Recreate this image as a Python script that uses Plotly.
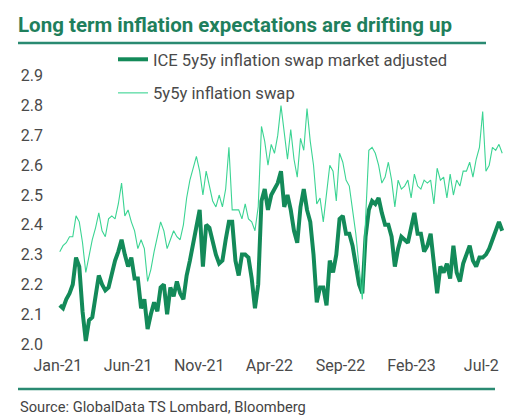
import pandas as pd
import plotly.graph_objects as go

# weekly observations, Jan-2021 .. Aug-2023
DATES = pd.date_range("2021-01-05", periods=137, freq="7D")

SWAP_ADJ = [
    2.13, 2.12, 2.15, 2.17, 2.20, 2.29, 2.26, 2.11, 2.01, 2.08,
    2.09, 2.16, 2.23, 2.20, 2.18, 2.19, 2.24, 2.28, 2.31, 2.35,
    2.30, 2.26, 2.29, 2.22, 2.22, 2.12, 2.15, 2.05, 2.10, 2.14,
    2.11, 2.19, 2.20, 2.10, 2.19, 2.16, 2.21, 2.17, 2.15, 2.23,
    2.28, 2.34, 2.40, 2.45, 2.26, 2.40, 2.39, 2.34, 2.30, 2.27,
    2.28, 2.35, 2.41, 2.41, 2.28, 2.23, 2.30, 2.30, 2.29, 2.22,
    2.12, 2.20, 2.48, 2.52, 2.45, 2.50, 2.52, 2.54, 2.58, 2.46,
    2.50, 2.45, 2.38, 2.34, 2.46, 2.52, 2.45, 2.41, 2.30, 2.14,
    2.19, 2.19, 2.13, 2.28, 2.24, 2.30, 2.42, 2.43, 2.37, 2.37,
    2.33, 2.27, 2.20, 2.17, 2.36, 2.45, 2.48, 2.47, 2.49, 2.44,
    2.40, 2.40, 2.36, 2.26, 2.32, 2.36, 2.35, 2.34, 2.39, 2.44,
    2.37, 2.37, 2.31, 2.33, 2.37, 2.27, 2.17, 2.26, 2.24, 2.27,
    2.22, 2.33, 2.24, 2.21, 2.27, 2.30, 2.33, 2.28, 2.26, 2.29,
    2.29, 2.30, 2.32, 2.35, 2.38, 2.41, 2.38,
]

SWAP = [
    2.31, 2.33, 2.34, 2.36, 2.36, 2.43, 2.41, 2.34, 2.24, 2.30,
    2.35, 2.39, 2.44, 2.38, 2.36, 2.42, 2.43, 2.42, 2.47, 2.54,
    2.43, 2.45, 2.41, 2.38, 2.32, 2.35, 2.32, 2.21, 2.25, 2.31,
    2.36, 2.41, 2.38, 2.32, 2.35, 2.38, 2.36, 2.35, 2.40, 2.49,
    2.55, 2.59, 2.63, 2.58, 2.50, 2.58, 2.53, 2.48, 2.46, 2.50,
    2.46, 2.52, 2.66, 2.45, 2.45, 2.45, 2.42, 2.47, 2.42, 2.41,
    2.38, 2.46, 2.73, 2.68, 2.60, 2.67, 2.64, 2.70, 2.80, 2.71,
    2.62, 2.72, 2.62, 2.56, 2.69, 2.65, 2.79, 2.68, 2.60, 2.47,
    2.49, 2.41, 2.51, 2.60, 2.58, 2.48, 2.64, 2.61, 2.55, 2.53,
    2.45, 2.37, 2.26, 2.15, 2.42, 2.65, 2.66, 2.64, 2.60, 2.54,
    2.56, 2.61, 2.55, 2.46, 2.55, 2.52, 2.53, 2.55, 2.49, 2.57,
    2.53, 2.52, 2.55, 2.54, 2.55, 2.47, 2.59, 2.55, 2.56, 2.49,
    2.57, 2.50, 2.55, 2.53, 2.58, 2.58, 2.61, 2.56, 2.62, 2.66,
    2.78, 2.58, 2.60, 2.66, 2.65, 2.67, 2.64,
]

TICK_DATES = ["2021-01-01", "2021-06-01", "2021-11-01", "2022-04-01",
              "2022-09-01", "2023-02-01", "2023-07-01"]
TICK_TEXT = ["Jan-21", "Jun-21", "Nov-21", "Apr-22", "Sep-22", "Feb-23", "Jul-2"]

DARK = "#138a59"
LIGHT = "#3bd493"
RULE = "#2a8a72"
TXT = "#4a4a4a"
FONT = "Roboto"

# page body adds an 8px margin, so the figure is drawn 8px smaller
W, H = 523, 411
PL, PR, PT, PB = 42, 497, 52, 342  # plot area in figure px


def px(x):
    return (x - 8 - PL) / (PR - PL)


def py(y):
    return (PB - (y - 8)) / (PB - PT)


fig = go.Figure()
fig.add_trace(go.Scatter(
    x=DATES, y=SWAP_ADJ, mode="lines",
    name="ICE 5y5y inflation swap market adjusted",
    line=dict(color=DARK, width=4), legendgroup="a",
))
fig.add_trace(go.Scatter(
    x=DATES, y=SWAP, mode="lines",
    name="5y5y inflation swap",
    line=dict(color=LIGHT, width=1.1), legendgroup="b",
))

fig.update_xaxes(
    range=["2020-12-15", "2023-08-21"],
    tickvals=TICK_DATES, ticktext=TICK_TEXT,
    showgrid=False, zeroline=False, showline=False,
    ticklabelstandoff=4,
    tickfont=dict(family=FONT, size=16, color=TXT),
)
fig.update_yaxes(
    range=[1.98, 2.953],
    tickvals=[2.0, 2.1, 2.2, 2.3, 2.4, 2.5, 2.6, 2.7, 2.8, 2.9],
    tickformat=".1f",
    showgrid=False, zeroline=False, showline=False,
    ticklabelstandoff=6,
    tickfont=dict(family=FONT, size=16, color=TXT),
)

fig.update_layout(
    width=W, height=H,
    margin=dict(l=PL, r=W - PR, t=PT, b=H - PB),
    paper_bgcolor="white", plot_bgcolor="white",
    font=dict(family=FONT, color=TXT),
    title=dict(
        text="<b>Long term inflation expectations are drifting up</b>",
        font=dict(family=FONT, size=20.5, color="#1f7f5c"),
        xref="container", x=(18 - 8) / W, xanchor="left",
        yref="container", y=1 - (25 - 8) / H, yanchor="middle",
    ),
    legend=dict(
        x=px(113), xanchor="left",
        y=py(42), yanchor="top",
        bgcolor="rgba(0,0,0,0)",
        font=dict(family=FONT, size=16.6, color=TXT),
        tracegroupgap=9,
    ),
    shapes=[
        dict(type="line", xref="paper", yref="paper",
             x0=px(18), x1=px(486), y0=py(43), y1=py(43),
             line=dict(color=RULE, width=2.5)),
        dict(type="line", xref="paper", yref="paper",
             x0=px(18), x1=px(495), y0=py(389), y1=py(389),
             line=dict(color=RULE, width=2.5)),
    ],
    annotations=[
        dict(text="Source: GlobalData TS Lombard, Bloomberg",
             xref="paper", yref="paper",
             x=px(18), xanchor="left",
             y=py(407), yanchor="middle",
             showarrow=False,
             font=dict(family=FONT, size=14.7, color="#444444")),
    ],
)

fig.write_html("out.html")
